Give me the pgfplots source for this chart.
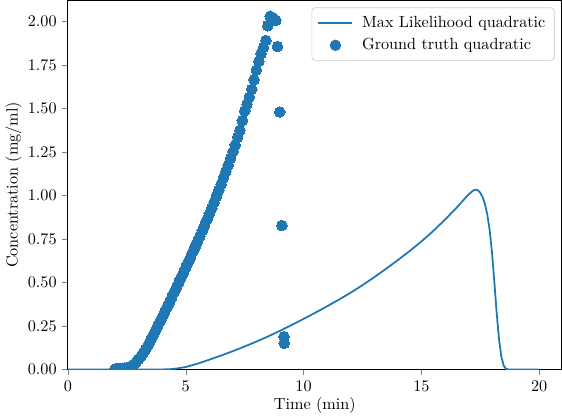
\documentclass[border=0pt]{standalone}
\usepackage{pgfplots}
\pgfplotsset{compat=1.18}
\definecolor{tabblue}{HTML}{1F77B4}
\pgfplotsset{
  lineimg/.style={legend image code/.code={%
    \draw[tabblue, line width=1.1pt] (0pt,0pt) -- (21pt,0pt);}},
  dotimg/.style={legend image code/.code={%
    \fill[tabblue] (10.5pt,0pt) circle (3.3pt);
    \path (0pt,0pt) (21pt,0pt);}},
}

\begin{document}
\begin{tikzpicture}
\begin{axis}[
  scale only axis,
  width=305pt, height=228pt,
  xmin=0, xmax=20.95,
  ymin=0, ymax=2.12,
  xtick={0,5,10,15,20},
  ytick={0,0.25,0.5,0.75,1,1.25,1.5,1.75,2},
  yticklabel style={/pgf/number format/.cd, fixed, fixed zerofill, precision=2},
  tick align=outside,
  tick pos=left,
  major tick length=3.5pt,
  axis line style={line width=0.6pt},
  xlabel={Time (min)},
  ylabel={Concentration (mg/ml)},
  xlabel style={yshift=3pt},
  ylabel style={yshift=-3pt},
  clip marker paths=true,
  legend cell align=left,
  legend style={at={(1,1)}, anchor=north east, xshift=-4.3pt, yshift=-4.3pt,
    draw=black!20, rounded corners=2pt, fill=white,
    inner xsep=3.5pt, inner ysep=3pt, row sep=1.5pt,
    nodes={inner sep=2pt},
    /tikz/every odd column/.append style={column sep=3.4pt}},
]
% maximum-likelihood fit
\addplot[tabblue, line width=1.1pt, lineimg]
  coordinates {
  (0,0) (4.0,0) (4.3,0.001) (4.6,0.005) (5.0,0.014) (5.5,0.033) (6.0,0.056)
  (6.5,0.08) (7.0,0.105) (7.5,0.132) (8.0,0.16) (8.5,0.19) (9.0,0.222)
  (9.5,0.256) (10.0,0.29) (10.5,0.326) (11.0,0.363) (11.5,0.401) (12.0,0.441)
  (12.5,0.484) (13.0,0.53) (13.5,0.578) (14.0,0.628) (14.5,0.68) (15.0,0.735)
  (15.5,0.795) (16.0,0.86) (16.5,0.93) (16.8,0.975) (17.0,1.005) (17.2,1.028)
  (17.3,1.033) (17.4,1.03) (17.5,1.015) (17.6,0.99) (17.7,0.95) (17.8,0.89)
  (17.9,0.80) (18.0,0.67) (18.1,0.50) (18.2,0.32) (18.3,0.17) (18.4,0.07)
  (18.5,0.02) (18.6,0.003) (18.7,0) (20.0,0)
  };
\addlegendentry{Max Likelihood quadratic}
% ground-truth samples
\addplot[only marks, color=tabblue, mark=*, mark size=3.3pt,
  mark options={fill=tabblue, draw=tabblue, line width=0pt}, dotimg]
  coordinates {
  (2.0,0.003) (2.1,0.004) (2.2,0.005) (2.3,0.006) (2.4,0.008) (2.5,0.010)
  (2.6,0.013) (2.7,0.020) (2.8,0.030) (2.9,0.043) (3.0,0.058) (3.1,0.075)
  (3.2,0.095) (3.3,0.117) (3.4,0.140) (3.5,0.165) (3.6,0.192) (3.7,0.220)
  (3.8,0.247) (3.9,0.274) (4.0,0.301) (4.1,0.329) (4.2,0.356) (4.3,0.384)
  (4.4,0.412) (4.5,0.441) (4.6,0.470) (4.7,0.499) (4.8,0.528) (4.9,0.557)
  (5.0,0.586) (5.1,0.615) (5.2,0.645) (5.3,0.675) (5.4,0.705) (5.5,0.735)
  (5.6,0.766) (5.7,0.797) (5.8,0.829) (5.9,0.861) (6.0,0.894) (6.1,0.927)
  (6.2,0.961) (6.3,0.995) (6.4,1.030) (6.5,1.065) (6.6,1.101) (6.7,1.137)
  (6.8,1.174) (6.9,1.212) (7.0,1.25) (7.1,1.29) (7.2,1.335) (7.3,1.375)
  (7.4,1.43) (7.5,1.485) (7.6,1.525) (7.7,1.565) (7.8,1.61) (7.9,1.665)
  (8.0,1.72) (8.1,1.77) (8.2,1.815) (8.3,1.85) (8.4,1.89) (8.48,1.975)
  (8.58,2.03) (8.7,2.02) (8.82,2.005) (8.89,1.855) (8.99,1.48) (9.08,0.827)
  (9.17,0.188) (9.18,0.15)
  };
\addlegendentry{Ground truth quadratic}
\end{axis}
\end{tikzpicture}
\end{document}
